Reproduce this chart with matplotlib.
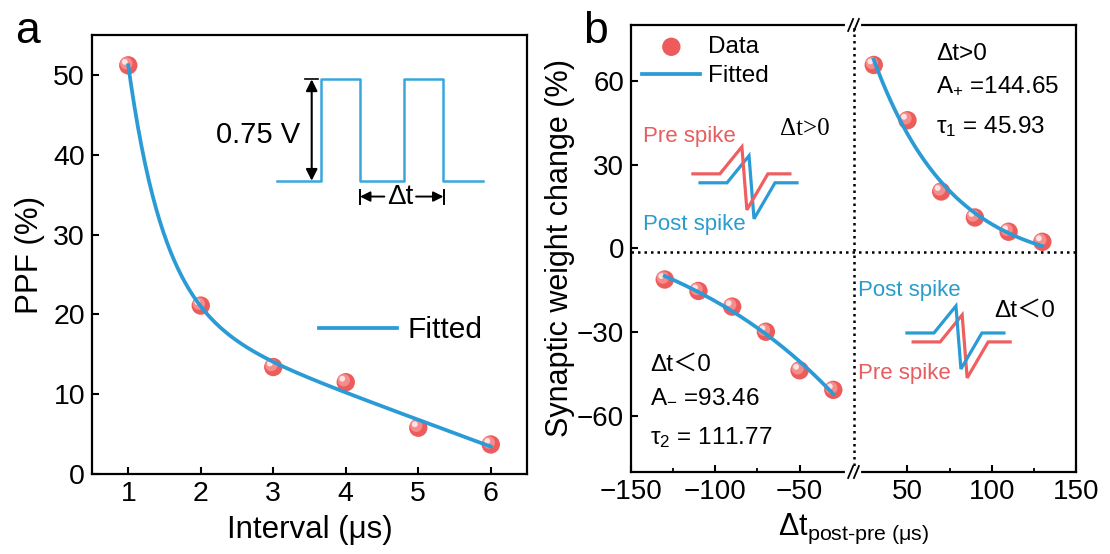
import numpy as np
import matplotlib
matplotlib.use('Agg')
import matplotlib.pyplot as plt
from matplotlib import transforms as mtransforms

# 数据
interval = [1, 2, 3, 4, 5, 6]
ppf = [51.2, 21.1, 13.4, 11.5, 5.8, 3.7]

dt_pos = [30, 50, 70, 90, 110, 130]
dw_pos = [65.7, 45.9, 20.4, 11.1, 6.0, 2.4]
dt_neg = [-130, -110, -90, -70, -50, -30]
dw_neg = [-11.1, -15.2, -20.8, -29.8, -43.6, -50.6]

A_plus, tau1 = 144.65, 45.93
A_minus, tau2 = 93.46, 111.77

ticks_a_x = [1, 2, 3, 4, 5, 6]
ticks_a_y = [0, 10, 20, 30, 40, 50]
ticks_b_x = [-150, -100, -50, 50, 100, 150]
ticks_b_minor = [-125, -75, 75, 125]
ticks_b_y = [-60, -30, 0, 30, 60]

plt.rcParams['font.family'] = ['Liberation Sans', 'Noto Sans CJK SC', 'DejaVu Sans']
plt.rcParams['mathtext.fontset'] = 'custom'
plt.rcParams['mathtext.rm'] = 'Liberation Sans'
plt.rcParams['mathtext.it'] = 'Liberation Sans:italic'
plt.rcParams['axes.linewidth'] = 1.6
for ax_ in ('xtick', 'ytick'):
    plt.rcParams[ax_ + '.direction'] = 'in'
    plt.rcParams[ax_ + '.major.size'] = 5
    plt.rcParams[ax_ + '.major.width'] = 1.5
    plt.rcParams[ax_ + '.minor.size'] = 3
    plt.rcParams[ax_ + '.minor.width'] = 1.3

RED = '#ee5b5b'
BLUE = '#2b9bd6'
TXT_RED = '#e85c5f'
TXT_BLUE = '#2a9ccc'

fig = plt.figure(figsize=(11.1, 5.54), dpi=100)
ax1 = fig.add_axes([0.0829, 0.1444, 0.3919, 0.7924])
ax2 = fig.add_axes([0.5685, 0.148, 0.4009, 0.8069])


def spheres(ax, x, y, s=175, label=None):
    # 简单的球体效果: 底色 + 高光
    ax.scatter(x, y, s=s, color=RED, edgecolors='none', zorder=3, label=label)
    off = mtransforms.offset_copy(ax.transData, fig=fig, x=-1.4, y=1.4, units='points')
    ax.scatter(x, y, s=s * 0.45, color='#f58d8d', edgecolors='none', zorder=3.1, transform=off)
    off2 = mtransforms.offset_copy(ax.transData, fig=fig, x=-2.5, y=2.5, units='points')
    ax.scatter(x, y, s=s * 0.1, color='#fde3e3', edgecolors='none', zorder=3.2, transform=off2)


# ---------------- (a) ----------------
x = np.array(interval, float)
y = np.array(ppf, float)
best = None
for tau in np.linspace(0.1, 3, 300):
    M = np.column_stack([np.exp(-x / tau), np.ones_like(x), x])
    coef, res, _, _ = np.linalg.lstsq(M, y, rcond=None)
    err = np.sum((M @ coef - y) ** 2)
    if best is None or err < best[0]:
        best = (err, tau, coef)
_, tau_a, ca = best
xf = np.linspace(1, 6, 300)
yf = ca[0] * np.exp(-xf / tau_a) + ca[1] + ca[2] * xf

spheres(ax1, interval, ppf)
fit_a, = ax1.plot(xf, yf, color=BLUE, lw=2.7, zorder=4, label='Fitted')

ax1.set_xlim(0.5, 6.5)
ax1.set_ylim(0, 55)
ax1.set_xticks(ticks_a_x)
ax1.set_yticks(ticks_a_y)
ax1.tick_params(labelsize=20.5, pad=5)
ax1.set_xlabel('Interval (μs)', fontsize=22.5, labelpad=6)
ax1.set_ylabel('PPF (%)', fontsize=22.5, labelpad=6)

ax1.legend(handles=[fit_a], loc='center left', bbox_to_anchor=(0.522, 0.328),
           frameon=False, fontsize=21.5, handlelength=2.6, handletextpad=0.35,
           borderpad=0, borderaxespad=0)

# 脉冲示意图
px = [0.426, 0.526, 0.526, 0.616, 0.616, 0.718, 0.718, 0.806, 0.806, 0.899]
base, top = 0.668, 0.899
py = [base, base, top, top, base, base, top, top, base, base]
ax1.plot(px, py, color='#3aa7dc', lw=1.8, transform=ax1.transAxes, zorder=2)
ax1.annotate('', xy=(0.505, top), xytext=(0.505, base), xycoords='axes fraction',
             arrowprops=dict(arrowstyle='<|-|>', color='k', lw=1.5, mutation_scale=17,
                             shrinkA=0, shrinkB=0))
ax1.plot([0.49, 0.52], [top, top], color='k', lw=1.2, transform=ax1.transAxes)
ax1.text(0.478, 0.772, '0.75 V', transform=ax1.transAxes, fontsize=21,
         ha='right', va='center')
ya = 0.632
for xb in (0.616, 0.808):
    ax1.plot([xb, xb], [ya - 0.016, ya + 0.016], color='k', lw=1.4, transform=ax1.transAxes)
ax1.annotate('', xy=(0.616, ya), xytext=(0.672, ya), xycoords='axes fraction',
             arrowprops=dict(arrowstyle='-|>', color='k', lw=1.4, mutation_scale=15,
                             shrinkA=0, shrinkB=0))
ax1.annotate('', xy=(0.808, ya), xytext=(0.745, ya), xycoords='axes fraction',
             arrowprops=dict(arrowstyle='-|>', color='k', lw=1.4, mutation_scale=15,
                             shrinkA=0, shrinkB=0))
ax1.text(0.708, ya, 'Δt', transform=ax1.transAxes, fontsize=20, ha='center', va='center')

# ---------------- (b) ----------------
GAP = 18


def fwd(v):
    v = np.asarray(v, float)
    return np.where(v <= -GAP, v + GAP, np.where(v >= GAP, v - GAP, 0.0))


def inv(u):
    u = np.asarray(u, float)
    return np.where(u < 0, u - GAP, np.where(u > 0, u + GAP, 0.0))


ax2.set_xscale('function', functions=(fwd, inv))

tp = np.array(dt_pos, float)
c_pos = np.mean(np.array(dw_pos) - A_plus * np.exp(-tp / tau1))
xp = np.linspace(30, 130, 200)
yp = A_plus * np.exp(-xp / tau1) + c_pos

tn = np.array(dt_neg, float)
c_neg = np.mean(np.array(dw_neg) + A_minus * np.exp(tn / tau2))
xn = np.linspace(-130, -30, 200)
yn = -A_minus * np.exp(xn / tau2) + c_neg

spheres(ax2, dt_neg, dw_neg, label='Data')
spheres(ax2, dt_pos, dw_pos)
fit_b, = ax2.plot(xn, yn, color=BLUE, lw=2.7, zorder=4, label='Fitted')
ax2.plot(xp, yp, color=BLUE, lw=2.7, zorder=4)

dots = (0, (1, 1.6))
ax2.axhline(-1.4, color='k', lw=1.8, ls=dots, zorder=1)
ax2.axvline(0, color='k', lw=1.8, ls=dots, zorder=1)

ax2.set_xlim(-150, 150)
ax2.set_ylim(-80, 80)
ax2.set_xticks(ticks_b_x)
ax2.set_xticks(ticks_b_minor, minor=True)
ax2.set_xticklabels(['\u2212150', '\u2212100', '\u221250', '50', '100', '150'])
ax2.set_yticks(ticks_b_y)
ax2.tick_params(labelsize=20, pad=5)
ax2.tick_params(axis='y', which='minor', left=False)
ax2.set_xlabel('Δt$_{\\mathregular{post\u2010pre\\ (μs)}}$', fontsize=22, labelpad=5)
ax2.set_ylabel('Synaptic weight change (%)', fontsize=22, labelpad=1)

leg = ax2.legend(loc='upper left', bbox_to_anchor=(0.025, 0.975), frameon=False,
                 fontsize=17.5, handlelength=2.4, handletextpad=0.3, labelspacing=0.3,
                 borderpad=0, borderaxespad=0, scatterpoints=1)

# 断轴标记
for yb in (0, 1):
    ax2.plot([0.486, 0.512], [yb, yb], color='white', lw=3, transform=ax2.transAxes,
             clip_on=False, zorder=5)
    for xc in (0.4935, 0.5065):
        ax2.plot([xc - 0.0056, xc + 0.0056], [yb - 0.0134, yb + 0.0134], color='k', lw=1.3,
                 transform=ax2.transAxes, clip_on=False, zorder=6)

T = ax2.transAxes
fs = 17.5
ax2.text(0.685, 0.936, 'Δt>0', transform=T, fontsize=fs, va='center')
ax2.text(0.685, 0.864, f'A$_{{\\mathregular{{+}}}}$ ={A_plus}', transform=T, fontsize=fs, va='center')
ax2.text(0.685, 0.772, f'τ$_{{\\mathregular{{1}}}}$ = {tau1}', transform=T, fontsize=fs, va='center')
ax2.text(0.043, 0.241, 'Δt\uff1c0', transform=T, fontsize=fs, va='center')
ax2.text(0.043, 0.170, f'A$_{{\\mathregular{{-}}}}$ ={A_minus}', transform=T, fontsize=fs, va='center')
ax2.text(0.043, 0.077, f'τ$_{{\\mathregular{{2}}}}$ = {tau2}', transform=T, fontsize=fs, va='center')
ax2.text(0.335, 0.768, 'Δt>0', transform=T, fontsize=18, va='center', family='Liberation Serif')
ax2.text(0.817, 0.361, 'Δt\uff1c0', transform=T, fontsize=fs, va='center')

ax2.text(0.027, 0.75, 'Pre spike', transform=T, fontsize=16, va='center', color=TXT_RED)
ax2.text(0.027, 0.553, 'Post spike', transform=T, fontsize=16, va='center', color=TXT_BLUE)
ax2.text(0.51, 0.405, 'Post spike', transform=T, fontsize=16, va='center', color=TXT_BLUE)
ax2.text(0.509, 0.221, 'Pre spike', transform=T, fontsize=16, va='center', color=TXT_RED)

# 脉冲波形示意 (像素尺寸 -> 轴坐标)
sx = np.array([0, 27, 49, 54, 75, 97]) / 445
sy = np.array([0, 0, 27, -36, 0, 0]) / 447
for (x0, y0, col) in [(0.155, 0.647, BLUE), (0.139, 0.667, '#f05f5f'),
                      (0.634, 0.291, '#f05f5f'), (0.620, 0.311, BLUE)]:
    ax2.plot(x0 + sx, y0 + sy, color=col, lw=2.3, transform=T, solid_joinstyle='miter')

fig.text(0.014, 0.944, 'a', fontsize=32, va='center')
fig.text(0.525, 0.944, 'b', fontsize=32, va='center')

fig.savefig('out.png', dpi=100)
